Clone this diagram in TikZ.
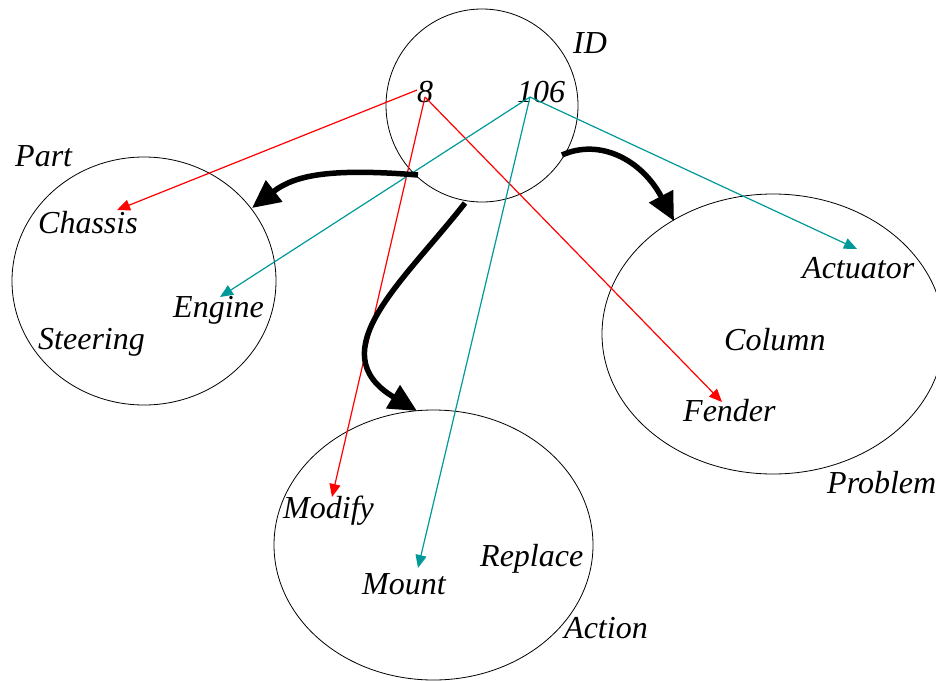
\documentclass[tikz,border=0pt]{standalone}
\usepackage{fontspec}
\setmainfont{Liberation Serif}
\usetikzlibrary{arrows.meta}
\definecolor{tealline}{RGB}{0,153,153}
\definecolor{redline}{RGB}{255,0,0}
\tikzset{
  set/.style={draw=black, line width=0.8pt},
  lbl/.style={anchor=base west, inner sep=0pt, font=\fontsize{32}{38}\selectfont\itshape},
  thin red/.style={draw=redline, line width=1.2pt, -{Triangle[length=13pt,width=11pt]}},
  thin teal/.style={draw=tealline, line width=1.2pt, -{Triangle[length=13pt,width=11pt]}},
  heavy/.style={draw=black, line width=5.5pt, -{Triangle[length=28pt,width=26pt]}},
}
\begin{document}
\begin{tikzpicture}[x=1pt,y=-1pt]
\useasboundingbox (0,0) rectangle (936,680);

% the four sets
\draw[set] (482,105.5) ellipse [x radius=96, y radius=96.5];
\draw[set] (144,281) ellipse [x radius=132, y radius=124];
\draw[set] (773,334) ellipse [x radius=171, y radius=140];
\draw[set] (433.5,545) ellipse [x radius=159.5, y radius=135];

% set names
\node[lbl] (idname) at (573,53) {ID};
\node[lbl] (partname) at (15,166) {Part};
\node[lbl] (probname) at (827,493) {Problem};
\node[lbl] (actname) at (564,638) {Action};

% identifiers
\node[lbl] (eight) at (417,102) {8};
\node[lbl] (onesix) at (517,102) {106};

% members
\node[lbl] (chassis) at (38,233) {Chassis};
\node[lbl] (engine) at (173,317) {Engine};
\node[lbl] (steering) at (38,349) {Steering};
\node[lbl] (actuator) at (802,278) {Actuator};
\node[lbl] (column) at (724,350) {Column};
\node[lbl] (fender) at (683,421) {Fender};
\node[lbl] (modify) at (283,518) {Modify};
\node[lbl] (mount) at (362,594) {Mount};
\node[lbl] (replace) at (480,566) {Replace};

% connector ends
\coordinate (e8a) at (417,90);
\coordinate (e8b) at (425,97);
\coordinate (e106) at (530,97);
\coordinate (tChassis) at (117,210);
\coordinate (tEngine) at (220,297);
\coordinate (tActuator) at (857,249);
\coordinate (tFender) at (722,402);
\coordinate (tModify) at (332,497);
\coordinate (tMount) at (418,568);

% links from identifier 8
\draw[thin red] (e8a) -- (tChassis);
\draw[thin red] (e8b) -- (tModify);
\draw[thin red] (e8b) -- (tFender);

% links from identifier 106
\draw[thin teal] (e106) -- (tEngine);
\draw[thin teal] (e106) -- (tMount);
\draw[thin teal] (e106) -- (tActuator);

% mappings between sets
\coordinate (sPart) at (418,175);
\coordinate (hPart) at (252,208);
\coordinate (sAct) at (465,203);
\coordinate (hAct) at (417,411);
\coordinate (sProb) at (562,155);
\coordinate (hProb) at (674,221);
\draw[heavy] (sPart) .. controls (330,168) and (295,175) .. (hPart);
\draw[heavy] (sAct) .. controls (405,280) and (318,352) .. (hAct);
\draw[heavy] (sProb) .. controls (600,138) and (642,160) .. (hProb);
\end{tikzpicture}
\end{document}
